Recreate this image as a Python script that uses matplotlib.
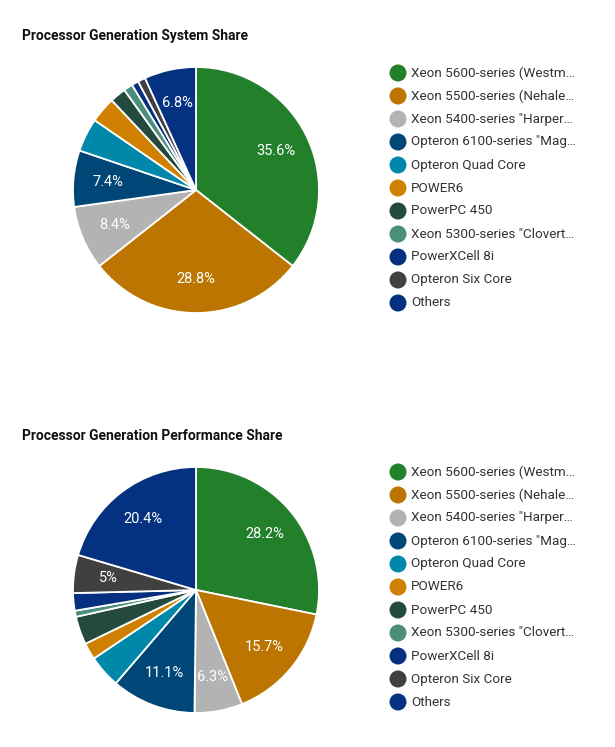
import matplotlib
matplotlib.use("Agg")
import matplotlib.pyplot as plt
import math

W, H = 615, 747

categories = [
    "Xeon 5600-series (Westm…",
    "Xeon 5500-series (Nehale…",
    "Xeon 5400-series \"Harper…",
    "Opteron 6100-series \"Mag…",
    "Opteron Quad Core",
    "POWER6",
    "PowerPC 450",
    "Xeon 5300-series \"Clovert…",
    "PowerXCell 8i",
    "Opteron Six Core",
    "Others",
]
colors = ["#22802B", "#BB7500", "#B3B3B3", "#004777", "#0088AB", "#D08000",
          "#244A3D", "#4A8E7B", "#062F80", "#404040", "#053280"]

system_share = [35.6, 28.8, 8.4, 7.4, 4.4, 3.4, 2.1, 1.2, 0.9, 1.0, 6.8]
performance_share = [28.2, 15.7, 6.3, 11.1, 4.3, 2.2, 3.7, 0.8, 2.3, 5.0, 20.4]

titles = ["Processor Generation System Share", "Processor Generation Performance Share"]

plt.rcParams['font.family'] = ['Roboto', 'DejaVu Sans']

fig = plt.figure(figsize=(W / 100, H / 100), dpi=100)

def fmt(v):
    s = f"{v:.1f}"
    if s.endswith(".0"):
        s = s[:-2]
    return s + "%"

panels = [
    dict(values=system_share, title=titles[0], cy=190, title_y=36, leg_y=73),
    dict(values=performance_share, title=titles[1], cy=590, title_y=436, leg_y=472),
]

cx, r = 196, 123
for p in panels:
    ax = fig.add_axes([(cx - r) / W, (H - p["cy"] - r) / H, 2 * r / W, 2 * r / H])
    vals = p["values"]
    wedges, _ = ax.pie(vals, colors=colors, startangle=90, counterclock=False,
                       wedgeprops=dict(edgecolor="white", linewidth=1.3))
    total = sum(vals)
    cum = 0
    for v in vals:
        mid = (cum + v / 2) / total * 360
        cum += v
        if v >= 5:
            a = math.radians(90 - mid)
            ax.text(0.72 * math.cos(a), 0.72 * math.sin(a), fmt(v), ha="center", va="center",
                    color="white", fontsize=10.5)
    ax.set_xlim(-1, 1)
    ax.set_ylim(-1, 1)
    ax.set_aspect("equal")
    ax.axis("off")

    fig.text(22 / W, 1 - p["title_y"] / H, p["title"], fontsize=10, fontweight="bold",
             ha="left", va="center", color="#111111")

overlay = fig.add_axes([0, 0, 1, 1])
overlay.set_xlim(0, W)
overlay.set_ylim(H, 0)
overlay.axis("off")
for p in panels:
    for i, (lab, col) in enumerate(zip(categories, colors)):
        y = p["leg_y"] + i * 23
        overlay.scatter([398], [y], s=150, color=col, edgecolors="none")
        overlay.text(411, y, lab, fontsize=9.7, ha="left", va="center", color="#333333")

fig.savefig("out.png", dpi=100)
